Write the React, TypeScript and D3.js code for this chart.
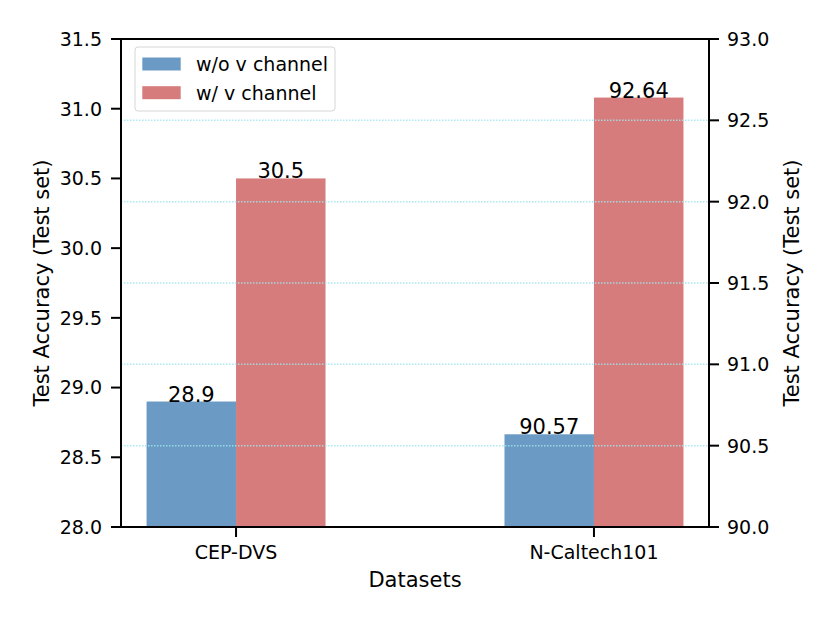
import * as React from 'react'
import * as d3 from 'd3'

const categories = ['CEP-DVS', 'N-Caltech101']
const withoutV = [28.9, 90.57]
const withV = [30.5, 92.64]
const valueLabels = [['28.9', '90.57'], ['30.5', '92.64']]
// which y axis each category is read against
const categoryAxis = ['left', 'right']
const leftTicks = [28.0, 28.5, 29.0, 29.5, 30.0, 30.5, 31.0, 31.5]
const rightTicks = [90.0, 90.5, 91.0, 91.5, 92.0, 92.5, 93.0]
const seriesNames = ['w/o v channel', 'w/ v channel']
const seriesColors = ['#6b9bc4', '#d67c7c']

const W = 830
const H = 623
const margin = { left: 121, top: 39, right: 121, bottom: 96 }
const font = 'DejaVu Sans, sans-serif'

export default function App() {
    const width = W - margin.left - margin.right
    const height = H - margin.top - margin.bottom
    const barW = 0.25

    const x = d3.scaleLinear().domain([-0.3214, 1.3214]).range([0, width])
    const yLeft = d3.scaleLinear().domain([28, 31.5]).range([height, 0])
    const yRight = d3.scaleLinear().domain([90, 93]).range([height, 0])
    const yFor = (i: number) => (categoryAxis[i] === 'left' ? yLeft : yRight)

    const series = [withoutV, withV]

    return (
        <div style={{ position: 'absolute', left: 0, top: 0 }}>
            <svg width={W} height={H} style={{ display: 'block', background: '#fff' }} fontFamily={font}>
                <g transform={`translate(${margin.left},${margin.top})`}>
                    {/* bars */}
                    {series.map((vals, s) =>
                        vals.map((v, i) => {
                            const y = yFor(i)
                            const x0 = x(i + (s === 0 ? -barW : 0))
                            const x1 = x(i + (s === 0 ? 0 : barW))
                            return (
                                <rect key={`b${s}-${i}`} x={x0} y={y(v)} width={x1 - x0}
                                    height={height - y(v)} fill={seriesColors[s]} />
                            )
                        })
                    )}

                    {/* grid from right axis */}
                    {rightTicks.slice(1, -1).map(t => (
                        <line key={`g${t}`} x1={0} x2={width} y1={yRight(t)} y2={yRight(t)}
                            stroke="#9fe6ee" strokeWidth={1.5} strokeDasharray="1.5,1.5" opacity={0.85} />
                    ))}

                    {/* value labels */}
                    {series.map((vals, s) =>
                        vals.map((v, i) => {
                            const cx = x(i + (s === 0 ? -barW / 2 : barW / 2))
                            return (
                                <text key={`l${s}-${i}`} x={cx} y={yFor(i)(v)}
                                    textAnchor="middle" fontSize={21} fill="#000">
                                    {valueLabels[s][i]}
                                </text>
                            )
                        })
                    )}

                    {/* frame */}
                    <rect x={0} y={0} width={width} height={height} fill="none" stroke="#000" strokeWidth={2} />

                    {/* left axis */}
                    {leftTicks.map(t => (
                        <g key={`lt${t}`} transform={`translate(0,${yLeft(t)})`}>
                            <line x1={-10} x2={0} stroke="#000" strokeWidth={2} />
                            <text x={-19} dy="0.36em" textAnchor="end" fontSize={19}>{t.toFixed(1)}</text>
                        </g>
                    ))}
                    <text transform={`translate(${-72},${height / 2}) rotate(-90)`} textAnchor="middle" fontSize={21}>
                        Test Accuracy (Test set)
                    </text>

                    {/* right axis */}
                    {rightTicks.map(t => (
                        <g key={`rt${t}`} transform={`translate(${width},${yRight(t)})`}>
                            <line x1={0} x2={10} stroke="#000" strokeWidth={2} />
                            <text x={18} dy="0.36em" textAnchor="start" fontSize={19}>{t.toFixed(1)}</text>
                        </g>
                    ))}
                    <text transform={`translate(${width + 90},${height / 2}) rotate(-90)`} textAnchor="middle" fontSize={21}>
                        Test Accuracy (Test set)
                    </text>

                    {/* x axis */}
                    {categories.map((c, i) => (
                        <g key={`xt${c}`} transform={`translate(${x(i)},${height})`}>
                            <line y1={0} y2={10} stroke="#000" strokeWidth={2} />
                            <text y={32} textAnchor="middle" fontSize={19}>{c}</text>
                        </g>
                    ))}
                    <text x={width / 2} y={height + 60} textAnchor="middle" fontSize={21}>Datasets</text>

                    {/* legend */}
                    <g transform="translate(14,8)">
                        <rect x={0} y={0} width={200} height={64} rx={3} fill="#fff" fillOpacity={0.8}
                            stroke="#d6d6d6" strokeWidth={1} />
                        {seriesNames.map((n, s) => (
                            <g key={n} transform={`translate(0,${17 + s * 28.7})`}>
                                <rect x={7.3} y={-6.5} width={38.4} height={13} fill={seriesColors[s]} />
                                <text x={61} dy="0.36em" fontSize={19}>{n}</text>
                            </g>
                        ))}
                    </g>
                </g>
            </svg>
        </div>
    )
}
